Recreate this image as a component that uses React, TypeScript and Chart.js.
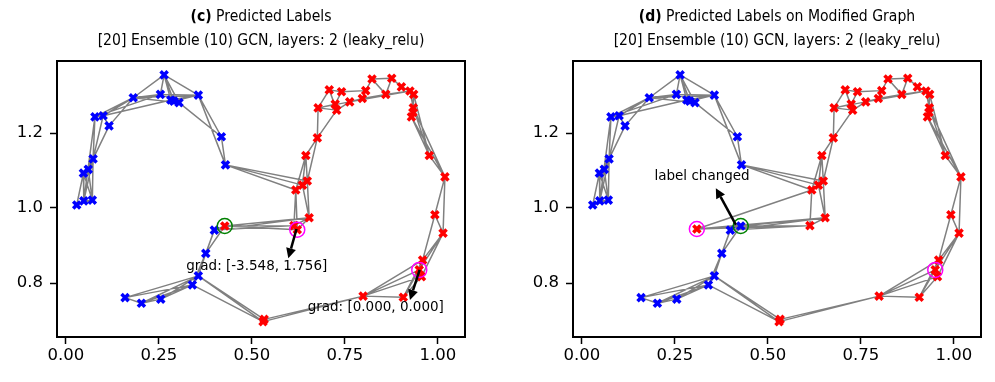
import React, { useEffect, useRef } from "react";
import { Chart, registerables } from "chart.js";

Chart.register(...registerables);

const FONT = "'DejaVu Sans', 'Liberation Sans', sans-serif";

// node positions (panel c)
const nodeX = [
  0.264, 0.254, 0.181, 0.282, 0.304, 0.356, 0.078, 0.100, 0.116, 0.418,
  0.429, 0.073, 0.047, 0.071, 0.048, 0.029, 0.399, 0.376, 0.356, 0.340,
  0.159, 0.203, 0.255, 0.427, 0.622, 0.613, 0.654, 0.618, 0.636, 0.649,
  0.645, 0.676, 0.678, 0.708, 0.741, 0.728, 0.763, 0.797, 0.806, 0.823,
  0.876, 0.902, 0.860, 0.925, 0.935, 0.934, 0.929, 0.977, 1.019, 0.992,
  1.014, 0.959, 0.950, 0.956, 0.799, 0.907, 0.530, 0.290, 0.060, 0.724,
  0.933, 0.533,
];
const nodeY = [
  1.355, 1.303, 1.294, 1.288, 1.281, 1.301, 1.243, 1.246, 1.219, 1.190,
  1.115, 1.131, 1.093, 1.021, 1.019, 1.008, 0.941, 0.879, 0.819, 0.795,
  0.761, 0.746, 0.757, 0.952, 0.942, 0.953, 0.974, 1.048, 1.061, 1.072,
  1.140, 1.187, 1.267, 1.315, 1.310, 1.261, 1.283, 1.292, 1.313, 1.344,
  1.346, 1.323, 1.303, 1.312, 1.303, 1.267, 1.243, 1.140, 1.083, 0.982,
  0.933, 0.861, 0.835, 0.817, 0.765, 0.762, 0.697, 1.285, 1.103, 1.277,
  1.255, 0.703,
];
// predicted labels: 0 = blue, 1 = red
const labelsC = [
  0, 0, 0, 0, 0, 0, 0, 0, 0, 0,
  0, 0, 0, 0, 0, 0, 0, 0, 0, 0,
  0, 0, 0, 1, 1, 1, 1, 1, 1, 1,
  1, 1, 1, 1, 1, 1, 1, 1, 1, 1,
  1, 1, 1, 1, 1, 1, 1, 1, 1, 1,
  1, 1, 1, 1, 1, 1, 1, 0, 0, 1,
  1, 1,
];
const labelsD = [
  0, 0, 0, 0, 0, 0, 0, 0, 0, 0,
  0, 0, 0, 0, 0, 0, 0, 0, 0, 0,
  0, 0, 0, 0, 1, 1, 1, 1, 1, 1,
  1, 1, 1, 1, 1, 1, 1, 1, 1, 1,
  1, 1, 1, 1, 1, 1, 1, 1, 1, 1,
  1, 1, 1, 1, 1, 1, 1, 0, 0, 1,
  1, 1,
];
const edgeFrom = [
  0, 0, 0, 0, 0, 0, 2, 2, 1, 3, 57, 2, 2, 2, 2, 6, 7, 6, 8,
  5, 4, 9, 5, 6, 8, 7, 11, 11, 11, 11, 58, 12, 12, 12, 13, 13, 14, 6, 58,
  10, 10, 10,
  27, 29, 28, 30, 29, 31, 31, 32, 32, 32, 33, 33, 34, 35, 32, 34, 35, 36, 37, 36, 38, 39, 39, 40, 40, 41, 42, 37,
  43, 44, 45, 43, 44, 60, 44, 45, 46, 46, 45, 47,
  48, 48, 49, 49, 50, 50, 50, 51, 51, 52, 53, 54, 51, 53, 52,
  54, 54, 56, 56, 61,
  18, 18, 19, 18, 18, 19, 20, 21, 19, 17, 17, 16, 23, 16,
  23, 23, 23, 16, 16, 24, 24, 25, 26, 24, 25, 27, 28, 26,
];
const edgeTo = [
  2, 1, 3, 4, 5, 57, 5, 4, 5, 5, 5, 1, 6, 7, 8, 7, 3, 1, 7,
  9, 9, 10, 10, 11, 11, 11, 12, 13, 14, 58, 12, 15, 13, 14, 14, 15, 15, 14, 13,
  27, 28, 29,
  30, 30, 30, 31, 31, 32, 35, 33, 35, 36, 34, 35, 59, 59, 59, 38, 36, 37, 38, 43, 39, 40, 42, 41, 42, 43, 43, 42,
  44, 45, 46, 45, 60, 46, 47, 47, 47, 48, 48, 48,
  49, 50, 50, 51, 51, 52, 53, 52, 54, 54, 54, 55, 55, 55, 55,
  56, 61, 18, 19, 18,
  19, 20, 20, 21, 22, 21, 21, 22, 22, 18, 19, 17, 17, 23,
  24, 25, 26, 25, 26, 27, 26, 27, 29, 25, 26, 28, 29, 28,
];
// modified graph: node 24 moved
const movedNode = 24;
const movedX = 0.309;
const movedY = 0.944;

const xTicks = [0, 0.25, 0.5, 0.75, 1.0];
const yTicks = [0.8, 1.0, 1.2];
const xLimits = [-0.024, 1.073];
const yLimits = [0.656, 1.392];

// annotations
const arrowsC = [
  [0.62, 0.944, 0.598, 0.866],
  [0.951, 0.835, 0.925, 0.755],
];
const notesC = ["grad: [-3.548, 1.756]", "grad: [0.000, 0.000]"];
const noteXC = [0.513, 0.833];
const noteYC = [0.845, 0.736];
const arrowsD = [[0.414, 0.955, 0.36, 1.053]];
const notesD = ["label changed"];
const noteXD = [0.323];
const noteYD = [1.085];

const subtitle = "[20] Ensemble (10) GCN, layers: 2 (leaky_relu)";

type PanelProps = {
  left: number;
  width: number;
  axisW: number;
  padRight: number;
  labels: number[];
  moved: boolean;
  tag: string;
  title: string;
  greenNodes: number[];
  magentaNodes: number[];
  arrows: number[][];
  notes: string[];
  noteX: number[];
  noteY: number[];
};

const H = 382;
const TITLE_SIZE = 16.5;
const TITLE_SQUEEZE = 0.85;

function Panel(p: PanelProps) {
  const ref = useRef<HTMLCanvasElement | null>(null);
  useEffect(() => {
    const canvas = ref.current;
    if (!canvas) return;
    const xs = nodeX.slice();
    const ys = nodeY.slice();
    if (p.moved) {
      xs[movedNode] = movedX;
      ys[movedNode] = movedY;
    }
    const edgeData: any[] = [];
    edgeFrom.forEach((a, i) => {
      const b = edgeTo[i];
      edgeData.push({ x: xs[a], y: ys[a] }, { x: xs[b], y: ys[b] }, { x: xs[b], y: null });
    });
    const blue: any[] = [];
    const red: any[] = [];
    xs.forEach((x, i) => (p.labels[i] === 0 ? blue : red).push({ x, y: ys[i] }));
    const ring = (ids: number[]) => ids.map((i) => ({ x: xs[i], y: ys[i] }));

    const overlay = {
      id: "overlay",
      afterDatasetsDraw(chart: any) {
        const { ctx, chartArea: a, scales } = chart;
        const sx = scales.x;
        const sy = scales.y;
        ctx.save();
        ctx.fillStyle = "#000";
        ctx.strokeStyle = "#000";
        p.arrows.forEach(([x0, y0, x1, y1]) => {
          const X0 = sx.getPixelForValue(x0);
          const Y0 = sy.getPixelForValue(y0);
          const X1 = sx.getPixelForValue(x1);
          const Y1 = sy.getPixelForValue(y1);
          const ang = Math.atan2(Y1 - Y0, X1 - X0);
          const hl = 10;
          const hw = 5;
          const bx = X1 - hl * Math.cos(ang);
          const by = Y1 - hl * Math.sin(ang);
          ctx.lineWidth = 2.5;
          ctx.beginPath();
          ctx.moveTo(X0, Y0);
          ctx.lineTo(bx, by);
          ctx.stroke();
          ctx.beginPath();
          ctx.moveTo(X1, Y1);
          ctx.lineTo(bx - hw * Math.sin(ang), by + hw * Math.cos(ang));
          ctx.lineTo(bx + hw * Math.sin(ang), by - hw * Math.cos(ang));
          ctx.closePath();
          ctx.fill();
        });
        ctx.font = `13.5px ${FONT}`;
        ctx.textAlign = "center";
        ctx.textBaseline = "middle";
        p.notes.forEach((t, i) =>
          ctx.fillText(t, sx.getPixelForValue(p.noteX[i]), sy.getPixelForValue(p.noteY[i]))
        );
        ctx.lineWidth = 2;
        ctx.strokeRect(a.left, a.top, a.right - a.left, a.bottom - a.top);
        ctx.restore();
      },
      afterDraw(chart: any) {
        const { ctx, chartArea: a } = chart;
        const cx = (a.left + a.right) / 2;
        ctx.save();
        ctx.fillStyle = "#000";
        ctx.textBaseline = "middle";
        ctx.textAlign = "left";
        const boldFont = `bold ${TITLE_SIZE}px ${FONT}`;
        const normFont = `${TITLE_SIZE}px ${FONT}`;
        ctx.font = boldFont;
        const w1 = ctx.measureText(p.tag).width;
        ctx.font = normFont;
        const rest = " " + p.title;
        const w2 = ctx.measureText(rest).width;
        ctx.translate(cx, 0);
        ctx.scale(TITLE_SQUEEZE, 1);
        const start = -(w1 + w2) / 2;
        ctx.font = boldFont;
        ctx.fillText(p.tag, start, 17);
        ctx.font = normFont;
        ctx.fillText(rest, start + w1, 17);
        ctx.textAlign = "center";
        ctx.fillText(subtitle, 0, 40.5);
        ctx.restore();
      },
    };

    const chart = new Chart(canvas, {
      type: "scatter",
      data: {
        datasets: [
          {
            data: ring(p.magentaNodes),
            pointStyle: "circle",
            pointRadius: 7.5,
            borderColor: "#ff00ff",
            backgroundColor: "rgba(0,0,0,0)",
            borderWidth: 1.5,
            order: 1,
          } as any,
          {
            data: ring(p.greenNodes),
            pointStyle: "circle",
            pointRadius: 7.5,
            borderColor: "#008000",
            backgroundColor: "rgba(0,0,0,0)",
            borderWidth: 1.5,
            order: 2,
          },
          {
            data: red,
            pointStyle: "crossRot",
            pointRadius: 5,
            borderColor: "#ff0000",
            backgroundColor: "#ff0000",
            borderWidth: 3.5,
            order: 3,
          },
          {
            data: blue,
            pointStyle: "crossRot",
            pointRadius: 5,
            borderColor: "#0000ff",
            backgroundColor: "#0000ff",
            borderWidth: 3.5,
            order: 4,
          },
          {
            data: edgeData,
            showLine: true,
            spanGaps: false,
            borderColor: "#808080",
            borderWidth: 1.5,
            pointRadius: 0,
            order: 5,
          },
        ],
      },
      options: {
        animation: false,
        responsive: false,
        maintainAspectRatio: false,
        events: [],
        layout: { padding: { top: 61, right: p.padRight, left: 0, bottom: 0 } },
        plugins: { legend: { display: false }, tooltip: { enabled: false }, title: { display: false } },
        scales: {
          x: {
            type: "linear",
            min: xLimits[0],
            max: xLimits[1],
            afterBuildTicks: (s: any) => {
              s.ticks = xTicks.map((v) => ({ value: v }));
            },
            afterFit: (s: any) => {
              s.height = 45;
            },
            ticks: {
              autoSkip: false,
              maxRotation: 0,
              color: "#000",
              padding: 2,
              font: { family: FONT, size: 16.5 },
              callback: (v: any) => Number(v).toFixed(2),
            },
            grid: { display: true, drawOnChartArea: false, drawTicks: true, tickLength: 7, tickWidth: 1.5, tickColor: "#000" },
            border: { display: false },
          },
          y: {
            type: "linear",
            min: yLimits[0],
            max: yLimits[1],
            afterBuildTicks: (s: any) => {
              s.ticks = yTicks.map((v) => ({ value: v }));
            },
            afterFit: (s: any) => {
              s.width = p.axisW;
            },
            ticks: {
              autoSkip: false,
              color: "#000",
              padding: 7,
              font: { family: FONT, size: 16.5 },
              callback: (v: any) => Number(v).toFixed(1),
            },
            grid: { display: true, drawOnChartArea: false, drawTicks: true, tickLength: 7, tickWidth: 1.5, tickColor: "#000" },
            border: { display: false },
          },
        },
      } as any,
      plugins: [overlay],
    });
    return () => chart.destroy();
  }, []);
  return (
    <canvas
      ref={ref}
      width={p.width}
      height={H}
      style={{ position: "absolute", left: p.left, top: 0, width: p.width, height: H }}
    />
  );
}

export default function App() {
  return (
    <div style={{ position: "fixed", left: 0, top: 0, width: 995, height: H, background: "#fff", overflow: "hidden" }}>
      <Panel
        left={0}
        width={490}
        axisW={57}
        padRight={25}
        labels={labelsC}
        moved={false}
        tag="(c)"
        title="Predicted Labels"
        greenNodes={[23]}
        magentaNodes={[24, 52]}
        arrows={arrowsC}
        notes={notesC}
        noteX={noteXC}
        noteY={noteYC}
      />
      <Panel
        left={500}
        width={495}
        axisW={73}
        padRight={14}
        labels={labelsD}
        moved={true}
        tag="(d)"
        title="Predicted Labels on Modified Graph"
        greenNodes={[23]}
        magentaNodes={[24, 52]}
        arrows={arrowsD}
        notes={notesD}
        noteX={noteXD}
        noteY={noteYD}
      />
    </div>
  );
}
